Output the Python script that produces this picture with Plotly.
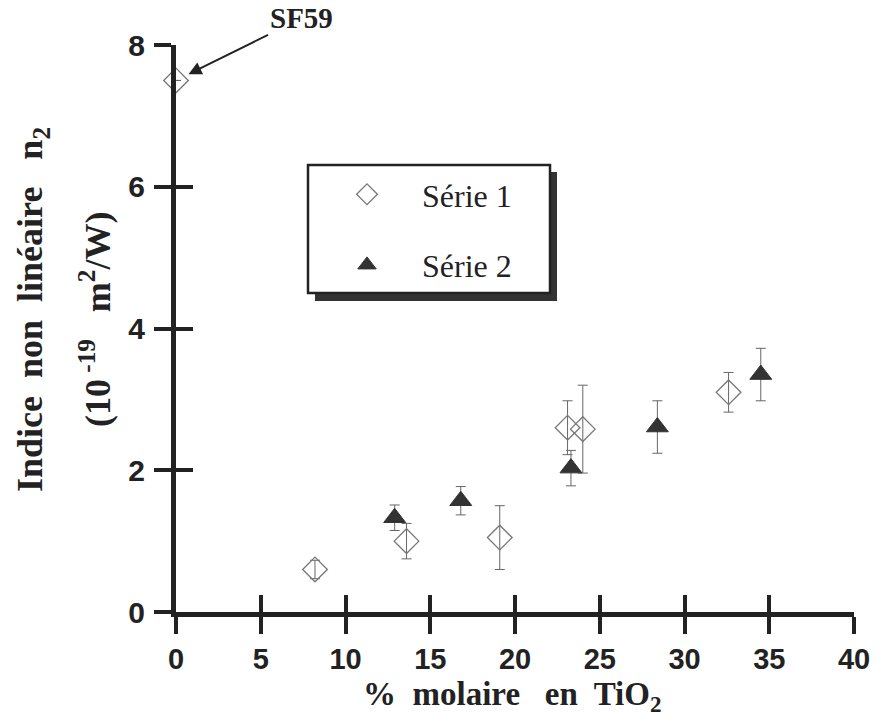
import plotly.graph_objects as go

# Série 1 (open diamonds) - first point is SF59 glass
s1_x = [0, 8.2, 13.6, 19.1, 23.1, 24.0, 32.6]
s1_y = [7.5, 0.6, 1.0, 1.05, 2.6, 2.58, 3.1]
s1_err = [None, 0.13, 0.25, 0.45, 0.38, 0.62, 0.28]

# Série 2 (filled triangles)
s2_x = [12.9, 16.8, 23.3, 28.4, 34.5]
s2_y = [1.33, 1.57, 2.03, 2.61, 3.35]
s2_err = [0.18, 0.2, 0.25, 0.37, 0.37]

x_ticks = [0, 5, 10, 15, 20, 25, 30, 35, 40]
y_ticks = [0, 2, 4, 6, 8]

W, H = 885, 722
ML, MR, MT, MB = 176, 31, 45, 110
PW, PH = W - ML - MR, H - MT - MB

SERIF = "Liberation Serif, Times New Roman, serif"
SANS = "Liberation Sans, Arial, sans-serif"
INK = "#222222"


def px_x(p):
    return (p - ML) / PW


def px_y(p):
    return (H - MB - p) / PH


fig = go.Figure()

fig.add_trace(go.Scatter(
    x=s1_x, y=s1_y, mode="markers", name="Série 1", legendgroup="a",
    marker=dict(symbol="diamond-open", size=19, color="#777777", line=dict(width=1.3)),
    error_y=dict(type="data", array=s1_err, color="#666666", thickness=1, width=5),
    cliponaxis=False,
))
fig.add_trace(go.Scatter(
    x=s2_x, y=s2_y, mode="markers", name="Série 2", legendgroup="b",
    marker=dict(symbol="triangle-up", size=19, color="#333333", line=dict(width=1, color="#333333")),
    error_y=dict(type="data", array=s2_err, color="#666666", thickness=1, width=5),
    cliponaxis=False,
))

axis_common = dict(showgrid=False, zeroline=False, tickwidth=4, tickcolor=INK, ticklen=17)

fig.update_layout(
    width=W, height=H,
    margin=dict(l=ML, r=MR, t=MT, b=MB),
    paper_bgcolor="white", plot_bgcolor="white",
    xaxis=dict(range=[0, 40], tickvals=x_ticks, ticks="outside", showline=True,
               linewidth=5, linecolor=INK, ticklabelstandoff=0,
               tickfont=dict(family=SANS, size=29, color=INK, weight="bold"), **axis_common),
    yaxis=dict(range=[0, 8], tickvals=y_ticks, ticks="outside", showline=True,
               linewidth=5, linecolor=INK, ticklabelstandoff=3,
               tickfont=dict(family=SANS, size=30, color=INK, weight="bold"), **axis_common),
    xaxis2=dict(range=[0, 40], tickvals=x_ticks, ticks="inside", overlaying="x",
                anchor="y", showticklabels=False, showline=False, **axis_common),
    yaxis2=dict(range=[0, 8], tickvals=y_ticks, ticks="inside", overlaying="y",
                anchor="x", side="left", showticklabels=False, showline=False, **axis_common),
    showlegend=True,
    legend=dict(x=px_x(312), y=px_y(167), xanchor="left", yanchor="top",
                bgcolor="rgba(0,0,0,0)", borderwidth=0, itemwidth=100,
                traceorder="grouped", tracegroupgap=26,
                font=dict(family=SERIF, size=32, color=INK)),
)

# hidden trace so the overlaid tick axes are drawn
fig.add_trace(go.Scatter(x=[None], y=[None], xaxis="x2", yaxis="y2", showlegend=False))

# legend frame with drop shadow
fig.add_shape(type="rect", xref="paper", yref="paper", layer="below",
              x0=px_x(315), x1=px_x(557), y0=px_y(301), y1=px_y(172),
              fillcolor="#333333", line=dict(width=0))
fig.add_shape(type="rect", xref="paper", yref="paper", layer="below",
              x0=px_x(308), x1=px_x(550), y0=px_y(293), y1=px_y(165),
              fillcolor="white", line=dict(width=2.5, color=INK))

fig.add_annotation(x=0, y=7.5, text="<b>SF59</b>", ax=125, ay=-62,
                   showarrow=True, arrowhead=2, arrowsize=1.3, arrowwidth=2,
                   arrowcolor=INK, standoff=14,
                   font=dict(family=SERIF, size=29, color=INK))

fig.add_annotation(xref="paper", yref="paper", x=px_x(32), y=px_y(310),
                   xanchor="center", yanchor="middle",
                   text="Indice  non  linéaire   n<sub>2</sub>", textangle=-90,
                   showarrow=False, font=dict(family=SERIF, size=36, color=INK, weight="bold"))
fig.add_annotation(xref="paper", yref="paper", x=px_x(95), y=px_y(320),
                   xanchor="center", yanchor="middle",
                   text="(10<sup> -19</sup>   m<sup>2</sup>/W)", textangle=-90,
                   showarrow=False, font=dict(family=SERIF, size=36, color=INK, weight="bold"))
fig.add_annotation(xref="paper", yref="paper", x=px_x(512), y=px_y(696),
                   xanchor="center", yanchor="middle",
                   text="%  molaire   en  TiO<sub>2</sub>",
                   showarrow=False, font=dict(family=SERIF, size=33, color=INK, weight="bold"))

# drop the page's default body margin so the figure sits at the window origin
fig.write_html("out.html", config={"displayModeBar": False},
               post_script="document.body.style.margin='0';")
